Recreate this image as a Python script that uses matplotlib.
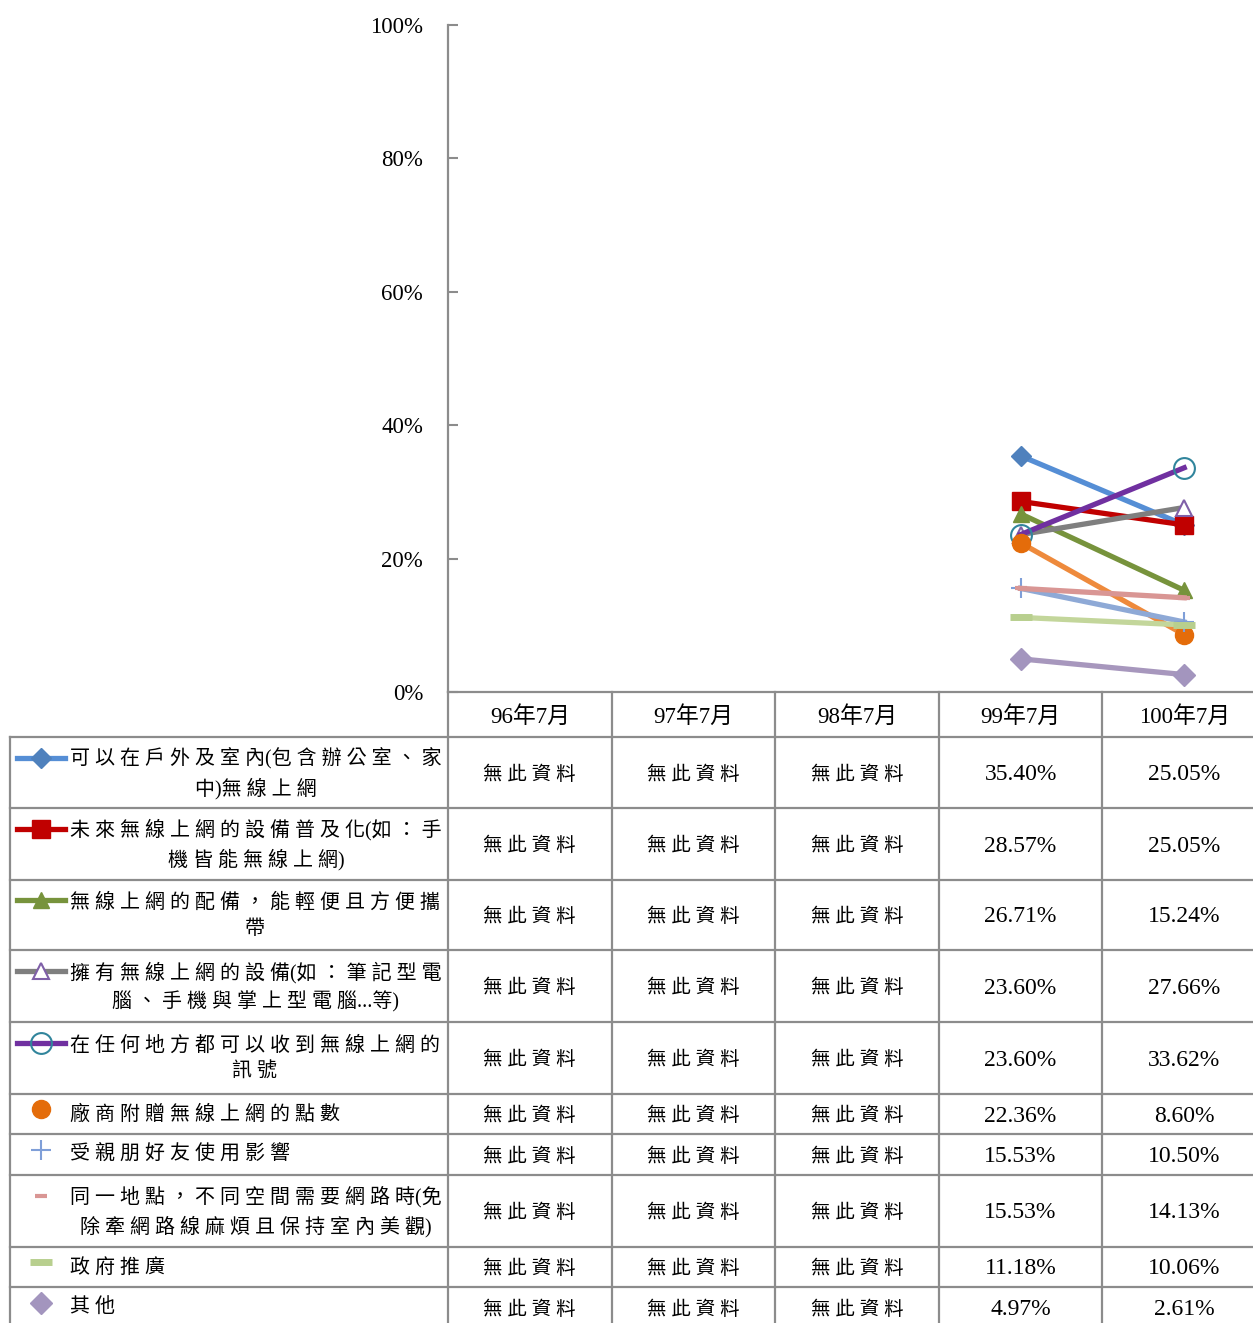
import matplotlib.pyplot as plt
from matplotlib.transforms import blended_transform_factory
import numpy as np

plt.rcParams['font.family'] = ['Liberation Serif', 'Noto Sans CJK TC', 'DejaVu Sans']

periods = ['96年7月', '97年7月', '98年7月', '99年7月', '100年7月']
labels = [
    '可以在戶外及室內(包含辦公室、家\n中)無線上網',
    '未來無線上網的設備普及化(如：手\n機皆能無線上網)',
    '無線上網的配備，能輕便且方便攜\n帶',
    '擁有無線上網的設備(如：筆記型電\n腦、手機與掌上型電腦...等)',
    '在任何地方都可以收到無線上網的\n訊號',
    '廠商附贈無線上網的點數',
    '受親朋好友使用影響',
    '同一地點，不同空間需要網路時(免\n除牽網路線麻煩且保持室內美觀)',
    '政府推廣',
    '其他',
]
v99 = [35.40, 28.57, 26.71, 23.60, 23.60, 22.36, 15.53, 15.53, 11.18, 4.97]
v100 = [25.05, 25.05, 15.24, 27.66, 33.62, 8.60, 10.50, 14.13, 10.06, 2.61]
no_data = '無此資料'

# line color, marker, size, face, edge, edge width, key shows line
styles = [
    ('#558ED5', 'D', 10, '#4F81BD', '#4F81BD', 1, True),
    ('#C00000', 's', 13, '#C00000', '#C00000', 1, True),
    ('#77933C', '^', 12, '#77933C', '#77933C', 1, True),
    ('#7F7F7F', '^', 12, 'white', '#7F5FA8', 1.5, True),
    ('#7030A0', 'o', 15, 'none', '#31859C', 1.5, True),
    ('#EE8A3C', 'o', 13, '#E46C0A', '#E46C0A', 1, False),
    ('#8EA9D6', '+', 15, '#7F9FD8', '#7F9FD8', 1.5, False),
    ('#D99694', '_', 8, '#D99694', '#D99694', 3, False),
    ('#C3D69B', '_', 16, '#B8CF8E', '#B8CF8E', 5, False),
    ('#A797BD', 'D', 11, '#A395BE', '#A395BE', 1, False),
]


def spaced(s):
    out = ''
    for a, b in zip(s, s[1:] + ' '):
        out += a
        if ord(a) > 0x2000 and ord(b) > 0x2000:
            out += ' '
    return out


W, H = 1253, 1323
fig = plt.figure(figsize=(W / 100, H / 100), dpi=100)
tab = fig.add_axes([0, 0, 1, 1])
tab.set_xlim(0, W)
tab.set_ylim(H, 0)
tab.axis('off')

ax = fig.add_axes([448 / W, 1 - 692 / H, 818 / W, 667 / H])
ax.patch.set_alpha(0)
ax.set_xlim(-0.5, 4.5)
ax.set_ylim(0, 100)

x = np.arange(len(periods))
for i, st in enumerate(styles):
    y = [np.nan, np.nan, np.nan, v99[i], v100[i]]
    lc, mk, ms, mf, me, mew, _ = st
    ax.plot(x, y, color=lc, lw=3.8, marker=mk, markersize=ms,
            markerfacecolor=mf, markeredgecolor=me, markeredgewidth=mew,
            clip_on=False, zorder=3)

gc = '#8C8C8C'
for s in ['top', 'right']:
    ax.spines[s].set_visible(False)
ax.spines['left'].set_color(gc)
ax.spines['left'].set_linewidth(1.6)
ax.spines['bottom'].set_color(gc)
ax.spines['bottom'].set_linewidth(1.6)
ax.set_xticks([])
ax.set_yticks(range(0, 101, 20))
ax.set_yticklabels([f'{t}%' for t in range(0, 101, 20)])
ax.tick_params(axis='y', direction='in', length=7, width=1.5, color=gc,
               pad=18, labelsize=16.5)

# data table
rows = [692, 737, 808, 880, 950, 1022, 1094, 1134, 1175, 1247, 1287, 1328]
bt = blended_transform_factory(ax.transData, tab.transData)
for yy in rows[1:-1]:
    tab.plot([10, W], [yy, yy], color=gc, lw=1.6, clip_on=False)
tab.plot([10, 10], [rows[1], H], color=gc, lw=1.6)
tab.plot([448, 448], [rows[0], H], color=gc, lw=1.6)
for i in range(len(periods) - 1):
    tab.plot([i + 0.5, i + 0.5], [rows[0], H], color=gc, lw=1.6,
             transform=bt, clip_on=False)

hy = (rows[0] + rows[1]) / 2
for i, p in enumerate(periods):
    tab.text(i, hy + 2, p, transform=bt, ha='center', va='center', fontsize=16.5)

for r, lab in enumerate(labels):
    y0, y1 = rows[r + 1], rows[r + 2]
    cy = (y0 + y1) / 2
    nlines = lab.count('\n') + 1
    tab.text(70, cy + 1, spaced(lab), ha='left', va='center', ma='center',
             fontsize=14.4, linespacing=1.5)
    ky = cy - 15 if nlines > 1 else cy - 5
    lc, mk, ms, mf, me, mew, showline = styles[r]
    if showline:
        tab.plot([17, 65], [ky, ky], color=lc, lw=3.8)
    tab.plot([41], [ky], marker=mk, markersize=ms, markerfacecolor=mf,
             markeredgecolor=me, markeredgewidth=mew, color=lc)
    for i in range(3):
        tab.text(i, cy + 2, spaced(no_data), transform=bt, ha='center',
                 va='center', fontsize=14)
    tab.text(3, cy + 2, f'{v99[r]:.2f}%', transform=bt, ha='center',
             va='center', fontsize=17)
    tab.text(4, cy + 2, f'{v100[r]:.2f}%', transform=bt, ha='center',
             va='center', fontsize=17)

fig.savefig('out.png', dpi=100)
